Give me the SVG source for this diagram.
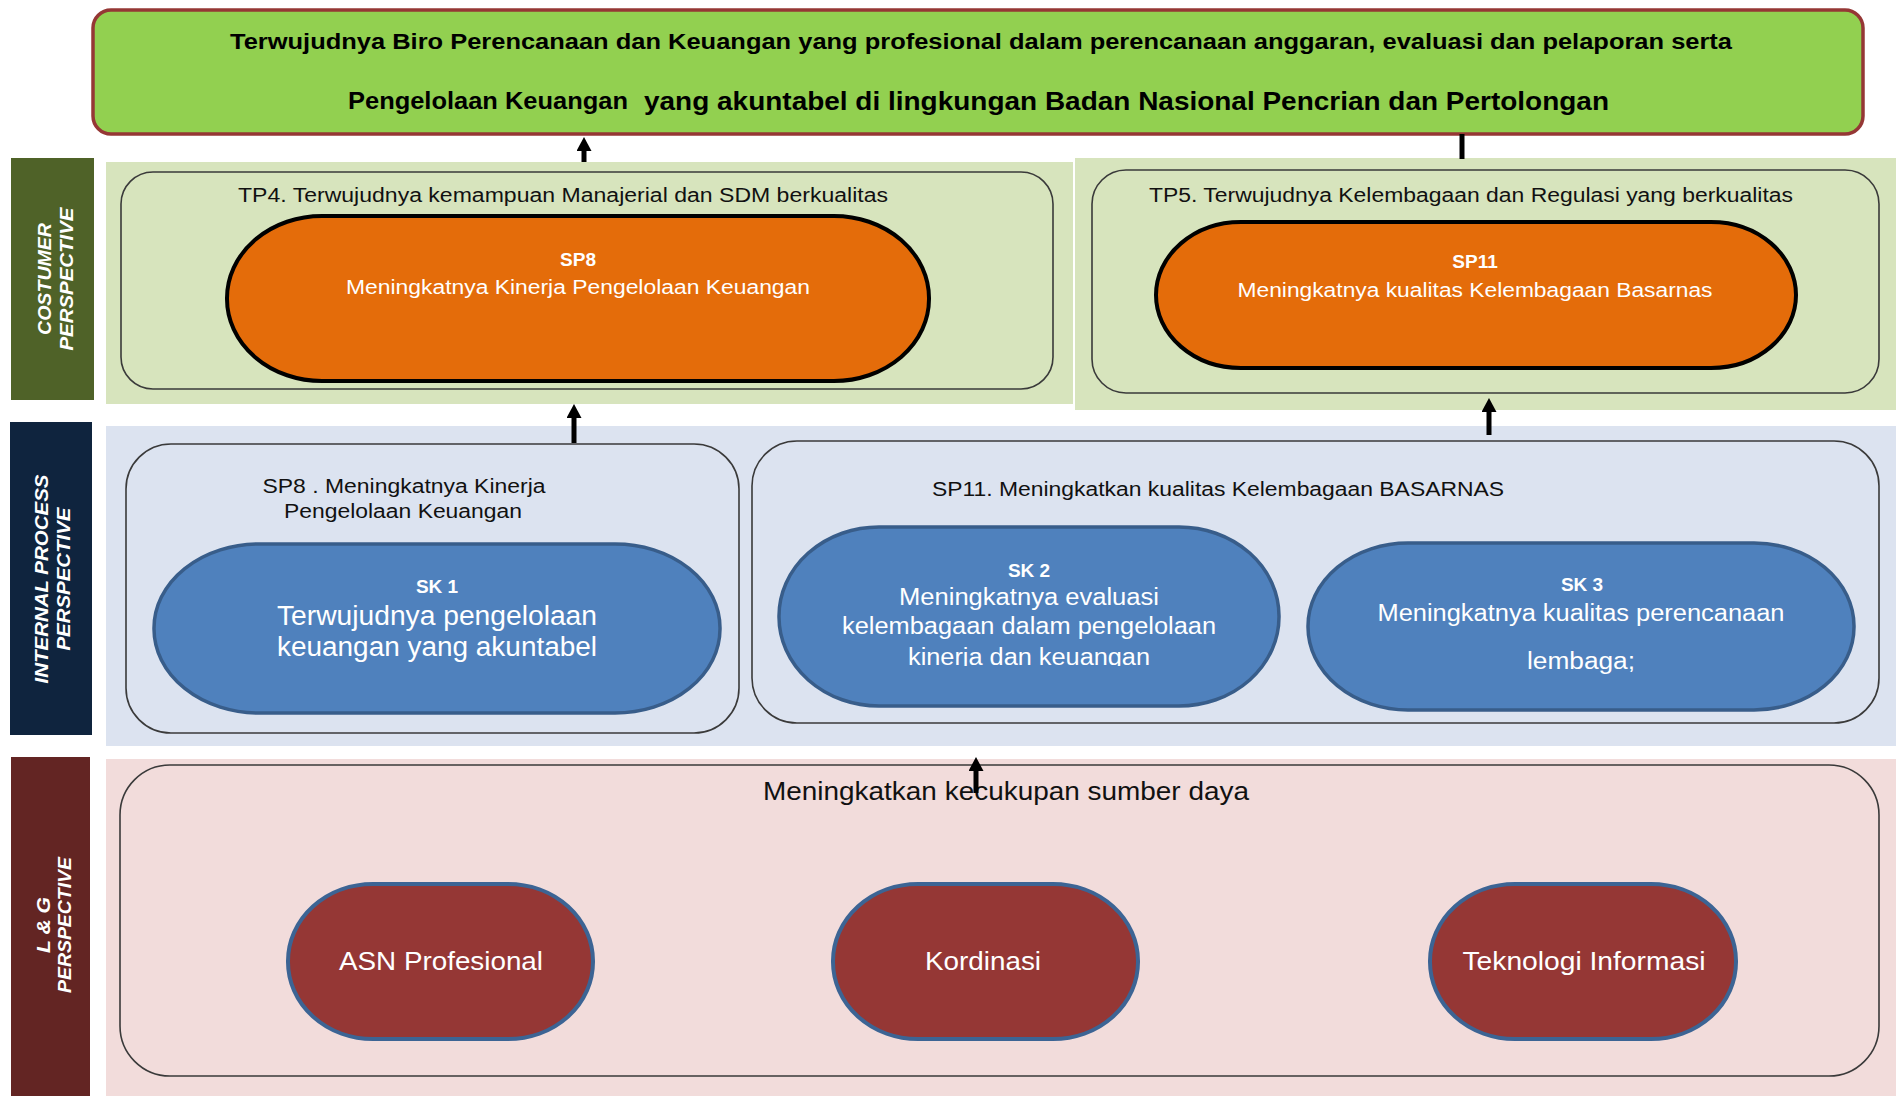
<svg xmlns="http://www.w3.org/2000/svg" width="1896" height="1096" viewBox="0 0 1896 1096">
<defs>
<style>
text{font-family:"Liberation Sans",Arial,sans-serif;}
.frame{fill:none;stroke:#3a3a3a;stroke-width:1.6;}
.orange{fill:#E46C0A;stroke:#000;stroke-width:4;}
.blue{fill:#4F81BD;stroke:#385D8A;stroke-width:3.5;}
.red{fill:#953735;stroke:#3C6494;stroke-width:4;}
.lbl{fill:#fff;font-weight:bold;font-style:italic;font-size:19px;text-anchor:middle;}
.hdr{fill:#111;font-size:20px;}
.wt{fill:#fff;text-anchor:middle;}
.b{font-weight:bold;}
.conn{stroke:#000;stroke-width:5;fill:none;}
</style>
<marker id="ah" viewBox="0 0 14 15" refX="0" refY="7.5" markerWidth="14" markerHeight="15" markerUnits="userSpaceOnUse" orient="auto">
<path d="M0,0 L14,7.5 L0,15 z" fill="#000"/>
</marker>
<clipPath id="sk2clip"><rect x="779" y="520" width="500" height="146"/></clipPath>
</defs>
<rect width="1896" height="1096" fill="#fff"/>

<!-- bands -->
<g id="bands">
<rect x="106" y="162" width="967" height="242" fill="#D7E4BD"/>
<rect x="1075" y="158" width="821" height="252" fill="#D7E4BD"/>
<rect x="106" y="426" width="1790" height="320" fill="#DCE3F0"/>
<rect x="106" y="759" width="1790" height="337" fill="#F2DCDB"/>
</g>

<!-- perspective labels -->
<g id="lbl-customer">
<rect x="11" y="158" width="83" height="242" fill="#4F6228"/>
<text class="lbl" transform="translate(51,279) rotate(-90)" textLength="112" lengthAdjust="spacingAndGlyphs">COSTUMER</text>
<text class="lbl" transform="translate(73,279) rotate(-90)" textLength="143" lengthAdjust="spacingAndGlyphs">PERSPECTIVE</text>
</g>
<g id="lbl-internal">
<rect x="10" y="422" width="82" height="313" fill="#0F243E"/>
<text class="lbl" transform="translate(48,579) rotate(-90)" textLength="209" lengthAdjust="spacingAndGlyphs">INTERNAL PROCESS</text>
<text class="lbl" transform="translate(70,579) rotate(-90)" textLength="143" lengthAdjust="spacingAndGlyphs">PERSPECTIVE</text>
</g>
<g id="lbl-lg">
<rect x="11" y="757" width="79" height="339" fill="#632523"/>
<text class="lbl" transform="translate(50,925) rotate(-90)" textLength="56" lengthAdjust="spacingAndGlyphs">L &amp; G</text>
<text class="lbl" transform="translate(71,925) rotate(-90)" textLength="136" lengthAdjust="spacingAndGlyphs">PERSPECTIVE</text>
</g>

<!-- top goal -->
<g id="goal">
<rect x="93" y="10" width="1770" height="124" rx="18" ry="18" fill="#92D050" stroke="#953735" stroke-width="3.5"/>
<text x="981" y="49" class="b" font-size="22" fill="#000" text-anchor="middle" textLength="1502" lengthAdjust="spacingAndGlyphs">Terwujudnya Biro Perencanaan dan Keuangan yang profesional dalam perencanaan anggaran, evaluasi dan pelaporan serta</text>
<text x="348" y="109" class="b" font-size="23" fill="#000" textLength="280" lengthAdjust="spacingAndGlyphs">Pengelolaan Keuangan</text>
<text x="644" y="110" class="b" font-size="26" fill="#000" textLength="965" lengthAdjust="spacingAndGlyphs">yang akuntabel di lingkungan Badan Nasional Pencrian dan Pertolongan</text>
</g>

<!-- customer perspective -->
<g id="tp4">
<rect class="frame" x="121" y="172" width="932" height="217" rx="32" ry="32"/>
<text class="hdr" x="563" y="202" text-anchor="middle" textLength="650" lengthAdjust="spacingAndGlyphs">TP4. Terwujudnya kemampuan Manajerial dan SDM berkualitas</text>
</g>
<g id="sp8">
<rect class="orange" x="227" y="216" width="702" height="165" rx="95" ry="82"/>
<text class="wt b" x="578" y="266" font-size="19">SP8</text>
<text class="wt" x="578" y="294" font-size="20" textLength="464" lengthAdjust="spacingAndGlyphs">Meningkatnya Kinerja Pengelolaan Keuangan</text>
</g>
<g id="tp5">
<rect class="frame" x="1092" y="170" width="787" height="223" rx="34" ry="34"/>
<text class="hdr" x="1471" y="202" text-anchor="middle" textLength="644" lengthAdjust="spacingAndGlyphs">TP5. Terwujudnya Kelembagaan dan Regulasi yang berkualitas</text>
</g>
<g id="sp11">
<rect class="orange" x="1156" y="222" width="640" height="146" rx="85" ry="73"/>
<text class="wt b" x="1475" y="268" font-size="19">SP11</text>
<text class="wt" x="1475" y="297" font-size="20" textLength="475" lengthAdjust="spacingAndGlyphs">Meningkatnya kualitas Kelembagaan Basarnas</text>
</g>

<!-- internal process -->
<g id="sp8-int">
<rect class="frame" x="126" y="444" width="613" height="289" rx="45" ry="45"/>
<text class="hdr" x="404" y="493" text-anchor="middle" textLength="283" lengthAdjust="spacingAndGlyphs">SP8 . Meningkatnya Kinerja</text>
<text class="hdr" x="403" y="518" text-anchor="middle" textLength="238" lengthAdjust="spacingAndGlyphs">Pengelolaan Keuangan</text>
</g>
<g id="sk1">
<rect class="blue" x="154" y="544" width="566" height="169" rx="105" ry="84"/>
<text class="wt b" x="437" y="593" font-size="19">SK 1</text>
<text class="wt" x="437" y="625" font-size="27" textLength="320" lengthAdjust="spacingAndGlyphs">Terwujudnya pengelolaan</text>
<text class="wt" x="437" y="656" font-size="27" textLength="320" lengthAdjust="spacingAndGlyphs">keuangan yang akuntabel</text>
</g>
<g id="sp11-int">
<rect class="frame" x="752" y="441" width="1127" height="282" rx="45" ry="45"/>
<text class="hdr" x="1218" y="496" text-anchor="middle" textLength="572" lengthAdjust="spacingAndGlyphs">SP11. Meningkatkan kualitas Kelembagaan BASARNAS</text>
</g>
<g id="sk2">
<rect class="blue" x="779" y="527" width="500" height="179" rx="100" ry="89"/>
<text class="wt b" x="1029" y="577" font-size="19">SK 2</text>
<text class="wt" x="1029" y="605" font-size="23" textLength="260" lengthAdjust="spacingAndGlyphs">Meningkatnya evaluasi</text>
<text class="wt" x="1029" y="634" font-size="23" textLength="374" lengthAdjust="spacingAndGlyphs">kelembagaan dalam pengelolaan</text>
<text class="wt" x="1029" y="665" font-size="23" textLength="242" lengthAdjust="spacingAndGlyphs" clip-path="url(#sk2clip)">kinerja dan keuangan</text>
</g>
<g id="sk3">
<rect class="blue" x="1308" y="543" width="546" height="167" rx="100" ry="83"/>
<text class="wt b" x="1582" y="591" font-size="19">SK 3</text>
<text class="wt" x="1581" y="621" font-size="23" textLength="407" lengthAdjust="spacingAndGlyphs">Meningkatnya kualitas perencanaan</text>
<text class="wt" x="1581" y="669" font-size="23" textLength="108" lengthAdjust="spacingAndGlyphs">lembaga;</text>
</g>

<!-- learning & growth -->
<g id="lg-frame">
<rect class="frame" x="120" y="765" width="1759" height="311" rx="50" ry="50"/>
<text x="1006" y="800" fill="#111" font-size="25" text-anchor="middle" textLength="486" lengthAdjust="spacingAndGlyphs">Meningkatkan kecukupan sumber daya</text>
</g>
<g id="asn">
<rect class="red" x="288" y="884" width="305" height="155" rx="85" ry="77"/>
<text class="wt" x="441" y="970" font-size="26" textLength="204" lengthAdjust="spacingAndGlyphs">ASN Profesional</text>
</g>
<g id="kordinasi">
<rect class="red" x="833" y="884" width="305" height="155" rx="85" ry="77"/>
<text class="wt" x="983" y="970" font-size="26" textLength="116" lengthAdjust="spacingAndGlyphs">Kordinasi</text>
</g>
<g id="ti">
<rect class="red" x="1430" y="884" width="306" height="155" rx="85" ry="77"/>
<text class="wt" x="1584" y="970" font-size="26" textLength="243" lengthAdjust="spacingAndGlyphs">Teknologi Informasi</text>
</g>

<!-- connectors -->
<g id="connectors">
<line class="conn" x1="584" y1="162" x2="584" y2="151" marker-end="url(#ah)"/>
<line class="conn" x1="1462" y1="134" x2="1462" y2="159" stroke-width="8"/>
<line class="conn" x1="574" y1="443" x2="574" y2="418" marker-end="url(#ah)"/>
<line class="conn" x1="1489" y1="435" x2="1489" y2="412" marker-end="url(#ah)"/>
<line class="conn" x1="976" y1="793" x2="976" y2="771" marker-end="url(#ah)"/>
</g>
</svg>
